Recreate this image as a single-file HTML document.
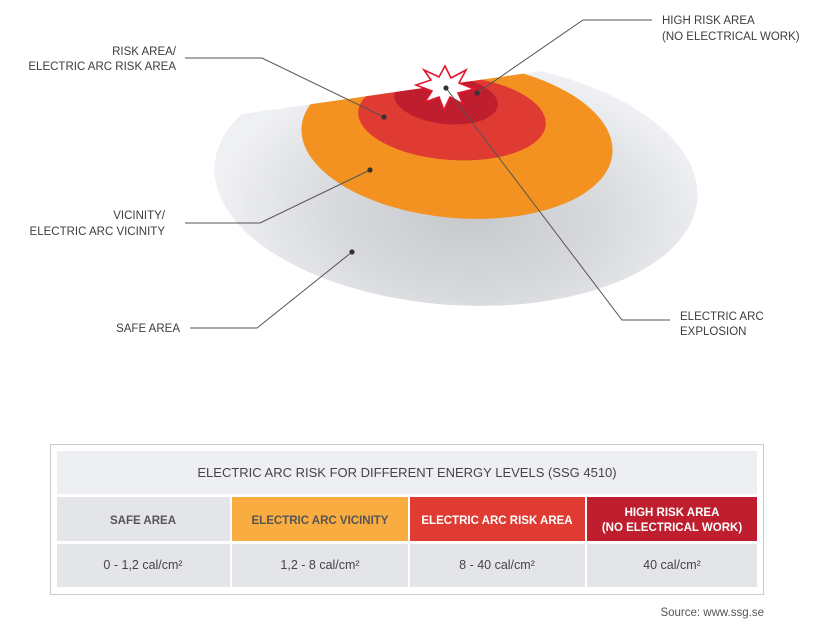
<!DOCTYPE html>
<html><head><meta charset="utf-8"><style>
body{margin:0;width:834px;height:630px;background:#fff;overflow:hidden;font-family:"Liberation Sans",sans-serif;}
svg{position:absolute;left:0;top:0}
.t{font-size:11.5px;fill:#3d3d42;font-family:"Liberation Sans",sans-serif}
</style></head><body>
<svg width="834" height="630" viewBox="0 0 834 630">
<defs>
<radialGradient id="g" cx="470" cy="215" r="250" gradientUnits="userSpaceOnUse" gradientTransform="translate(470 215) scale(1 0.6) translate(-470 -215)">
<stop offset="0" stop-color="#c6c8cc"/><stop offset="0.55" stop-color="#d8dadd"/><stop offset="1" stop-color="#eff0f3"/></radialGradient>
<clipPath id="c"><polygon points="0,149 834,28.9 834,630 0,630"/></clipPath>
</defs>
<g clip-path="url(#c)">
<ellipse cx="456" cy="182" rx="242" ry="123" transform="rotate(4 456 182)" fill="url(#g)"/>
<ellipse cx="457" cy="140" rx="156" ry="78" transform="rotate(5 457 140)" fill="#f39220"/>
<ellipse cx="452" cy="118" rx="94" ry="42" transform="rotate(4 452 118)" fill="#e03b33"/>
<ellipse cx="446" cy="100" rx="52" ry="24" transform="rotate(6 446 100)" fill="#be1e2d"/>
</g>
<polygon points="445,66 451,78 466,70 459,83 474,89 458,93 463,104 450,97 444,110 439,97 425,102 432,91 416,85 431,80 424,70 439,77" fill="#fff" stroke="#e3162d" stroke-width="1.6"/>
<g stroke="#555" stroke-width="1" fill="none">
<polyline points="652,20 583,20 477,93"/>
<polyline points="185,58 262,58 384,117"/>
<polyline points="185,223 260,223 370,170"/>
<polyline points="190,328 257,328 352,252"/>
<polyline points="670,320 622,320 446,88"/>
</g>
<g fill="#333"><circle cx="477" cy="93" r="2.6"/><circle cx="384" cy="117" r="2.6"/><circle cx="370" cy="170" r="2.6"/><circle cx="352" cy="252" r="2.6"/><circle cx="446" cy="88" r="2.6"/></g>
<text class="t" x="662" y="24">HIGH RISK AREA</text>
<text class="t" x="662" y="40">(NO ELECTRICAL WORK)</text>
<text class="t" x="176" y="55" text-anchor="end">RISK AREA/</text>
<text class="t" x="176" y="70" text-anchor="end">ELECTRIC ARC RISK AREA</text>
<text class="t" x="165" y="219" text-anchor="end">VICINITY/</text>
<text class="t" x="165" y="235" text-anchor="end">ELECTRIC ARC VICINITY</text>
<text class="t" x="180" y="332" text-anchor="end">SAFE AREA</text>
<text class="t" x="680" y="320">ELECTRIC ARC</text>
<text class="t" x="680" y="335">EXPLOSION</text>
<rect x="50.5" y="444.5" width="713" height="150" fill="#fff" stroke="#ccc"/>
<rect x="57" y="451" width="700" height="43" fill="#eeeff2"/>
<rect x="57" y="497" width="173" height="44" fill="#e4e5e8"/>
<rect x="232" y="497" width="176" height="44" fill="#f9ac40"/>
<rect x="410" y="497" width="175" height="44" fill="#e03b33"/>
<rect x="587" y="497" width="170" height="44" fill="#be1e2d"/>
<rect x="57" y="544" width="173" height="43" fill="#e4e5e8"/>
<rect x="232" y="544" width="176" height="43" fill="#e4e5e8"/>
<rect x="410" y="544" width="175" height="43" fill="#e4e5e8"/>
<rect x="587" y="544" width="170" height="43" fill="#e4e5e8"/>
<text x="407" y="477" text-anchor="middle" font-size="13" fill="#444">ELECTRIC ARC RISK FOR DIFFERENT ENERGY LEVELS (SSG 4510)</text>
<g font-size="11.5" text-anchor="middle" font-weight="bold">
<text x="143" y="524" fill="#555">SAFE AREA</text>
<text x="320" y="524" fill="#555">ELECTRIC ARC VICINITY</text>
<text x="497" y="524" fill="#fff">ELECTRIC ARC RISK AREA</text>
<text x="672" y="516" fill="#fff">HIGH RISK AREA</text>
<text x="672" y="531" fill="#fff">(NO ELECTRICAL WORK)</text>
</g>
<g font-size="12.5" text-anchor="middle" fill="#444">
<text x="143" y="569">0 - 1,2 cal/cm²</text>
<text x="320" y="569">1,2 - 8 cal/cm²</text>
<text x="497" y="569">8 - 40 cal/cm²</text>
<text x="672" y="569">40 cal/cm²</text>
</g>
<text x="764" y="616" text-anchor="end" font-size="11.5" fill="#555">Source: www.ssg.se</text>
</svg>
</body></html>
